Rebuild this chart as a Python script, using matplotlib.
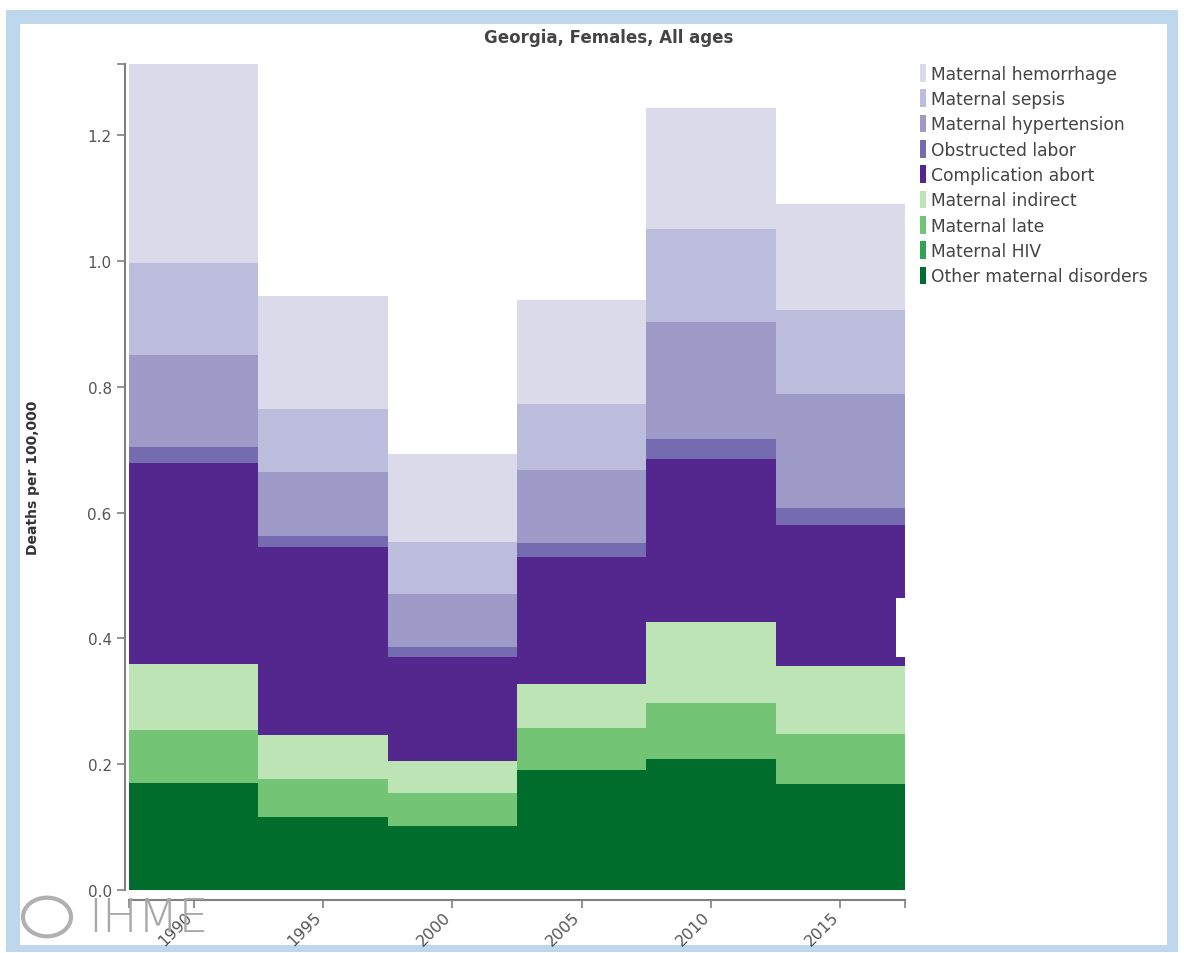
#stacked maternal deaths chart for Georgia, females, all ages
#each 5-year block is drawn as a stacked bar of width 5

import numpy as np
import matplotlib.pyplot as plt
import matplotlib.transforms as mtrans
from matplotlib.patches import Rectangle, Circle, Patch

plt.rcParams['font.family'] = ['DejaVu Sans']

years = [1990, 1995, 2000, 2005, 2010, 2015]

#causes from bottom of the stack to top
causes = ['Other maternal disorders', 'Maternal HIV', 'Maternal late',
          'Maternal indirect', 'Complication abort', 'Obstructed labor',
          'Maternal hypertension', 'Maternal sepsis', 'Maternal hemorrhage']

other_maternal = [0.170, 0.116, 0.102, 0.191, 0.208, 0.169]
maternal_hiv = [0.0, 0.0, 0.0, 0.0, 0.0, 0.0]
maternal_late = [0.084, 0.060, 0.052, 0.067, 0.089, 0.079]
maternal_indirect = [0.105, 0.070, 0.051, 0.069, 0.129, 0.108]
complication_abort = [0.320, 0.299, 0.165, 0.202, 0.259, 0.224]
obstructed_labor = [0.025, 0.018, 0.016, 0.023, 0.032, 0.027]
maternal_hypertension = [0.147, 0.102, 0.085, 0.116, 0.186, 0.182]
maternal_sepsis = [0.146, 0.100, 0.082, 0.105, 0.148, 0.133]
maternal_hemorrhage = [0.316, 0.179, 0.140, 0.165, 0.192, 0.169]

series = [other_maternal, maternal_hiv, maternal_late, maternal_indirect,
          complication_abort, obstructed_labor, maternal_hypertension,
          maternal_sepsis, maternal_hemorrhage]
colors = ['#006d2c', '#31a354', '#74c476', '#bce4b5', '#54278f',
          '#756bb1', '#9e9ac8', '#bcbddc', '#dadaeb']

W, H = 1184, 954
fig = plt.figure(figsize=(W/100, H/100), dpi=100)

#light blue frame round the chart
fig.patches.append(Rectangle((6/W, 1-953/H), 1172/W, 942/H, transform=fig.transFigure,
                             facecolor='#bfd7ed', edgecolor='none', zorder=-2))
fig.patches.append(Rectangle((20/W, 1-946/H), 1147/W, 921/H, transform=fig.transFigure,
                             facecolor='white', edgecolor='none', zorder=-1))

ax = fig.add_axes([129/W, 63/H, 776/W, 826/H])

bottom = np.zeros(len(years))
for vals, col in zip(series, colors):
    ax.bar(years, vals, width=5, bottom=bottom, color=col, edgecolor='none', align='center')
    bottom += np.array(vals)

ax.set_xlim(1987.5, 2017.5)
ax.set_ylim(0, bottom.max())

for s in ['top', 'right']:
    ax.spines[s].set_visible(False)
ax.spines['left'].set_position(('outward', 3))
ax.spines['bottom'].set_position(('outward', 7))
for s in ['left', 'bottom']:
    ax.spines[s].set_color('#808080')
    ax.spines[s].set_linewidth(1.5)

ax.set_xticks(years)
ax.set_xticks([1987.5, 2017.5], minor=True)
ax.set_yticks([0.0, 0.2, 0.4, 0.6, 0.8, 1.0, 1.2])
ax.set_yticks([bottom.max()], minor=True)
ax.set_yticklabels(['0.0', '0.2', '0.4', '0.6', '0.8', '1.0', '1.2'])
ax.tick_params(which='both', direction='out', length=6, width=1.2, color='#808080',
               labelcolor='#555555')
ax.tick_params(axis='y', labelsize=11)
ax.tick_params(axis='x', labelsize=11.5, pad=4.5)
#rotated year labels end at their tick
shift = mtrans.ScaledTranslation(-4/100, 0, fig.dpi_scale_trans)
for lab in ax.get_xticklabels():
    lab.set_rotation(45)
    lab.set_ha('right')
    lab.set_va('center')
    lab.set_rotation_mode('anchor')
    lab.set_transform(lab.get_transform() + shift)

ax.set_ylabel('Deaths per 100,000', fontsize=10, fontweight='bold', color='#333333')
ax.yaxis.set_label_coords(-89/776, 0.5)
fig.text(609/W, 1-38/H, 'Georgia, Females, All ages', ha='center', va='center',
         fontsize=12, fontweight='bold', color='#444444')

#white patch left over on the 2015 block
fig.patches.append(Rectangle((896/W, 1-658/H), 12/W, 59/H, transform=fig.transFigure,
                             facecolor='white', edgecolor='none', zorder=5))

#legend, top entry is the top of the stack
handles = [Patch(facecolor=c, edgecolor='none') for c in colors[::-1]]
fig.legend(handles, causes[::-1], loc='upper left', bbox_to_anchor=(920/W, 1-65/H),
           frameon=False, handlelength=0.36, handleheight=1.2, handletextpad=0.3,
           labelspacing=0.4, fontsize=12.3, labelcolor='#444444', borderaxespad=0,
           borderpad=0)

#IHME logo
fig.patches.append(Circle((47/W, 1-918/H), 24/W, transform=fig.transFigure,
                          facecolor='none', edgecolor='#b0b0b0', linewidth=3, zorder=6))
fig.text(88/W, 1-919/H, 'IHME', ha='left', va='center', fontsize=34,
         color='#a8a8a8', fontweight='light', zorder=6)

fig.savefig('out.png', dpi=100)
